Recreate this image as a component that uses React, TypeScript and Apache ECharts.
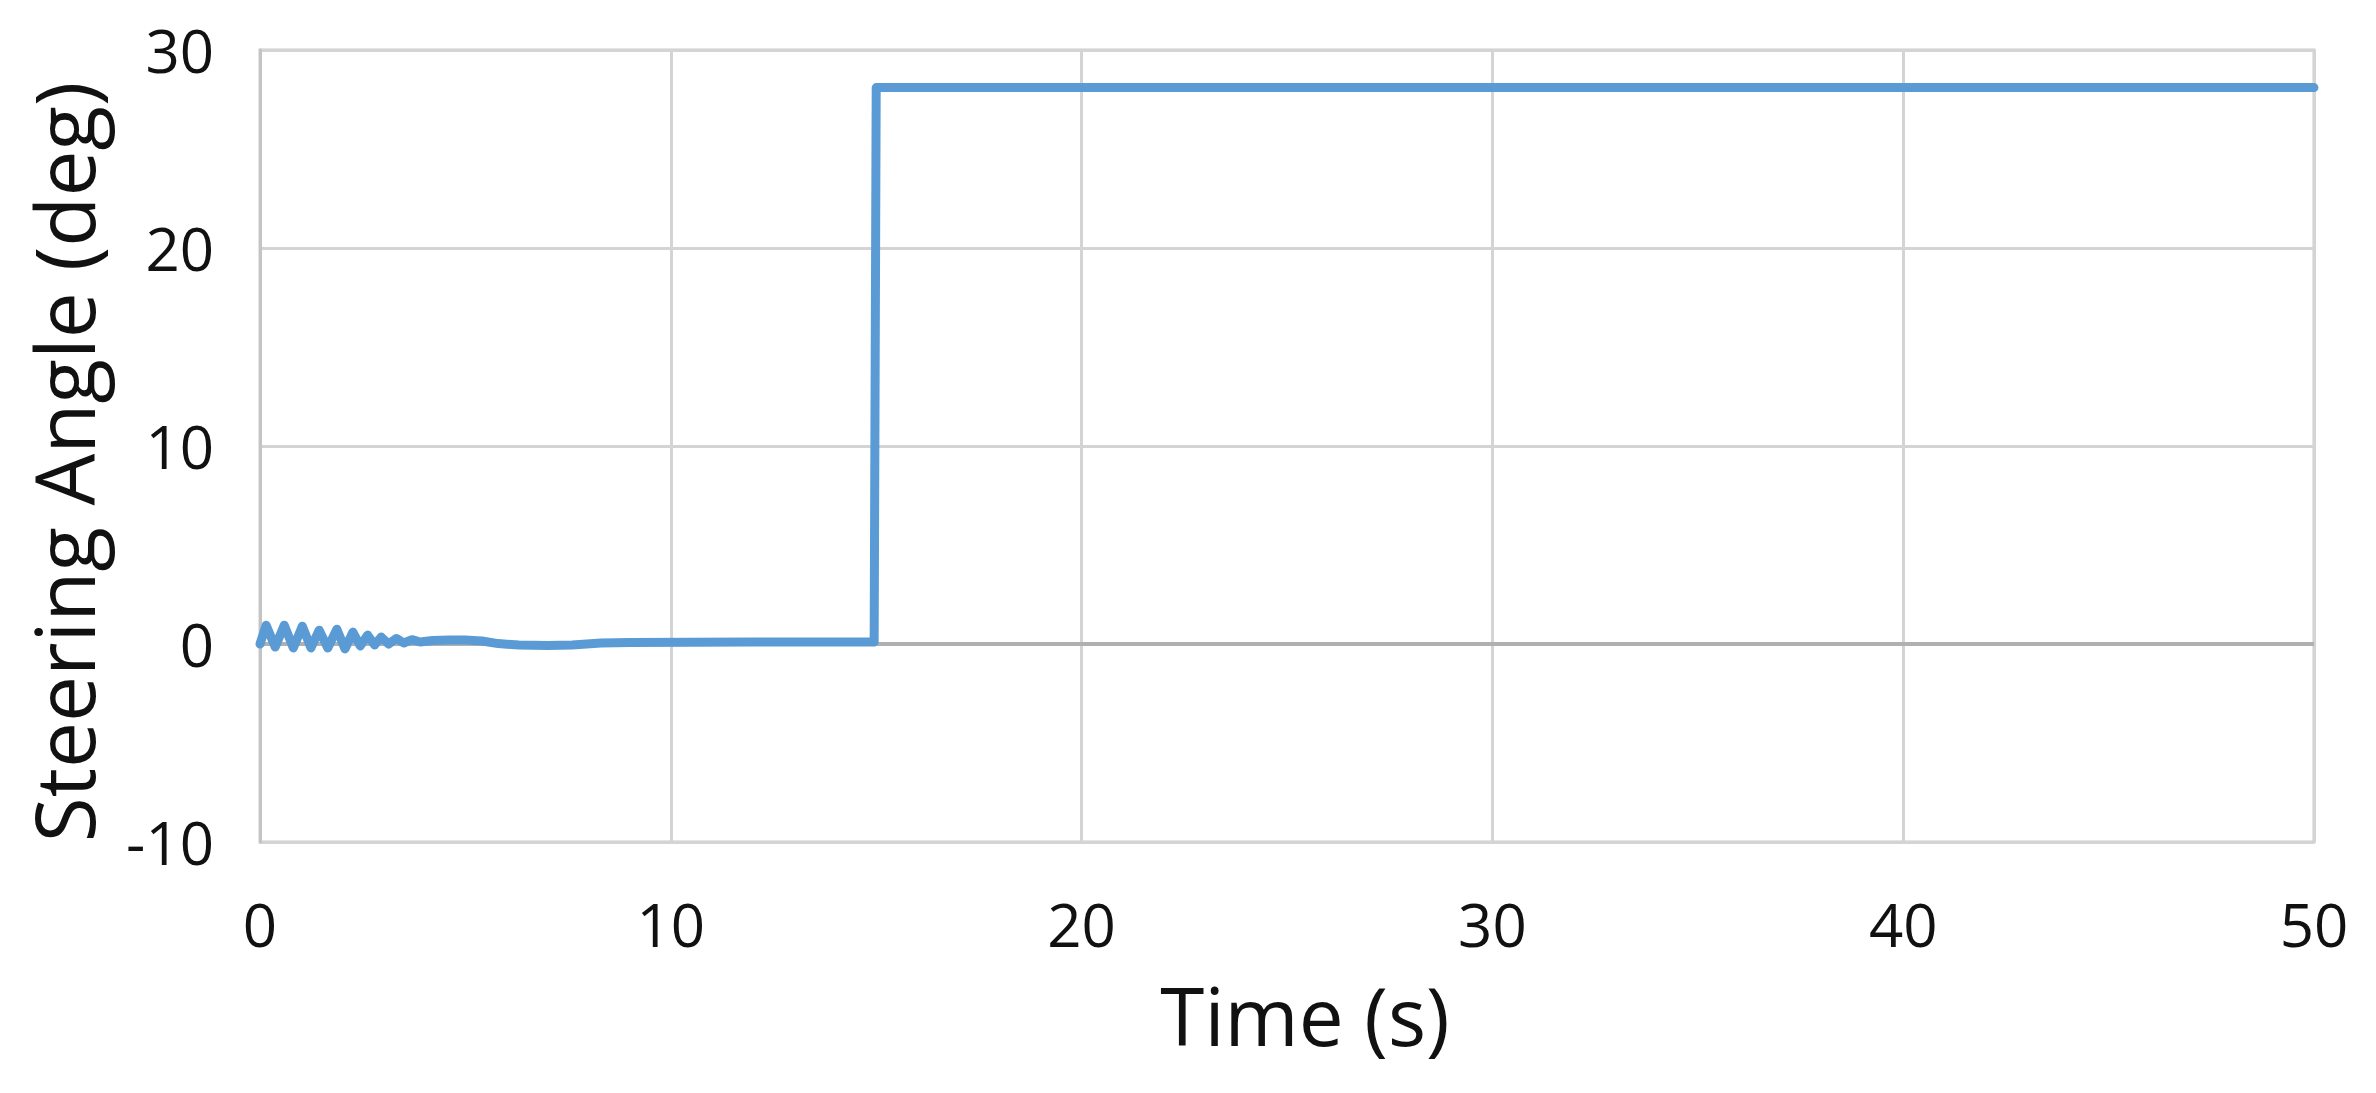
import React, { useEffect, useRef } from "react";
import * as echarts from "echarts";

const timeS: number[] = [
  0, 0.15, 0.37, 0.59, 0.81, 1.03, 1.24, 1.44, 1.65, 1.87, 2.07, 2.26, 2.44, 2.62, 2.79, 2.95,
  3.13, 3.32, 3.5, 3.7, 3.9, 4.2, 4.6, 5.0, 5.4, 5.8, 6.3, 7.0, 7.6, 8.3, 9.0, 12.0, 14.95, 15.0, 50.0,
];
const steeringDeg: number[] = [
  0, 0.95, -0.15, 0.95, -0.2, 0.9, -0.2, 0.7, -0.2, 0.75, -0.25, 0.6, -0.1, 0.45, -0.05, 0.35,
  0.0, 0.28, 0.05, 0.22, 0.1, 0.18, 0.2, 0.2, 0.15, 0.02, -0.05, -0.08, -0.05, 0.05, 0.08, 0.1, 0.1, 28.1, 28.1,
];
const xTicks = { min: 0, max: 50, interval: 10 };
const yTicks = { min: -10, max: 30, interval: 10 };

const FONT = "'Open Sans', 'Noto Sans', sans-serif";

export default function App() {
  const ref = useRef<HTMLDivElement>(null);
  useEffect(() => {
    document.body.style.margin = "0";
    if (!ref.current) return;
    const chart = echarts.init(ref.current, undefined, { renderer: "svg" });
    const data = timeS.map((t, i) => [t, steeringDeg[i]]);
    chart.setOption({
      animation: false,
      backgroundColor: "#ffffff",
      grid: {
        left: 260,
        right: 62,
        top: 50,
        bottom: 251,
        show: true,
        borderColor: "#cccccc",
        borderWidth: 3,
      },
      xAxis: {
        type: "value",
        min: xTicks.min,
        max: xTicks.max,
        interval: xTicks.interval,
        name: "Time (s)",
        nameLocation: "middle",
        nameGap: 132,
        nameTextStyle: {
          fontFamily: FONT,
          fontSize: 80,
          color: "#111111",
          lineHeight: 80,
          padding: [0, 0, 0, 36],
        },
        axisLine: { show: false },
        axisTick: { show: false },
        axisLabel: {
          fontFamily: FONT,
          fontSize: 60,
          color: "#111111",
          margin: 52,
          lineHeight: 60,
        },
        splitLine: { show: true, lineStyle: { color: "#d4d4d4", width: 3 } },
      },
      yAxis: {
        type: "value",
        min: yTicks.min,
        max: yTicks.max,
        interval: yTicks.interval,
        name: "Steering Angle (deg)",
        nameLocation: "middle",
        nameGap: 156,
        nameTextStyle: {
          fontFamily: FONT,
          fontSize: 82,
          color: "#111111",
          lineHeight: 82,
          padding: [0, 32, 0, 0],
        },
        axisLine: { show: true, lineStyle: { color: "#c4c4c4", width: 3 } },
        axisTick: { show: false },
        axisLabel: {
          fontFamily: FONT,
          fontSize: 60,
          color: "#111111",
          margin: 46,
        },
        splitLine: { show: true, lineStyle: { color: "#d4d4d4", width: 3 } },
      },
      series: [
        {
          type: "line",
          data,
          showSymbol: false,
          symbol: "none",
          lineStyle: { color: "#5b9bd5", width: 9, join: "round", cap: "round" },
          z: 3,
          markLine: {
            silent: true,
            symbol: "none",
            label: { show: false },
            lineStyle: { color: "#b0b0b0", width: 4, type: "solid" },
            data: [{ yAxis: 0 }],
            z: 2,
          },
        },
      ],
    });
    return () => chart.dispose();
  }, []);
  return <div ref={ref} style={{ width: 2376, height: 1093 }} />;
}
